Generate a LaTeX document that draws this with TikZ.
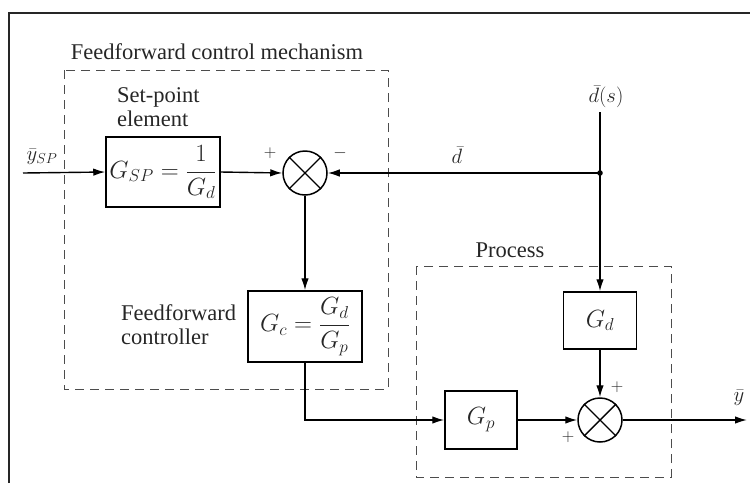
\documentclass[tikz,border=0pt]{standalone}
\usepackage{fontspec}
\setmainfont{Liberation Serif}
\usetikzlibrary{arrows.meta}
\newcommand\fs{\fontsize{22.5}{24}\selectfont}
\newcommand\fb{\fontsize{23}{26}\selectfont}
\newcommand\fsm{\fontsize{17}{18}\selectfont}
\begin{document}
\begin{tikzpicture}[x=1pt,y=-1pt,
  blk/.style={draw, line width=1.5pt, inner sep=0pt, font=\fb, text=black!85},
  sumj/.style={draw, circle, line width=1.5pt, minimum size=44pt, inner sep=0pt},
  wire/.style={line width=1.4pt},
  sig/.style={line width=1.4pt, -{Latex[length=12pt,width=7.5pt]}},
  grp/.style={dash pattern=on 9pt off 6pt, line width=1pt, black!70},
  lbl/.style={font=\fs, inner sep=0pt, text=black!85},
  sgn/.style={font=\fsm, inner sep=0pt, text=black!85}]
\useasboundingbox (0,0) rectangle (750,483);
% frame
\draw[line width=1.8pt, black!85] (9,483) -- (9,13) -- (750,13);
% groups
\draw[grp] (64,70) rectangle (388,389);
\draw[grp] (416,266) rectangle (671,477);
\node[lbl] (ttl) at (217,52) {Feedforward control mechanism};
\node[lbl] (proc) at (510,250) {Process};
\node[lbl, anchor=west, align=left] (spe) at (117,107) {Set-point\\element};
\node[lbl, anchor=west, align=left] (ffc) at (121,325) {Feedforward\\controller};
% blocks
\node[blk, minimum width=114pt, minimum height=70pt] (gsp) at (163,172) {$\displaystyle G_{SP} = \frac{1}{G_d}$};
\node[blk, minimum width=114pt, minimum height=71pt] (gc) at (305,326.5) {$\displaystyle G_c = \frac{G_d}{G_p}$};
\node[blk, minimum width=73pt, minimum height=57pt] (gd) at (600,320.5) {$G_d$};
\node[blk, minimum width=72pt, minimum height=58pt] (gp) at (481,420) {$G_p$};
\node[sumj] (s1) at (305,173) {};
\node[sumj] (s2) at (600,420) {};
\draw[wire] (s1.45) -- (s1.225) (s1.135) -- (s1.315);
\draw[wire] (s2.45) -- (s2.225) (s2.135) -- (s2.315);
% coordinates
\coordinate (in) at (23,173);
\coordinate (jn) at (600,173);
\coordinate (dtop) at (600,112);
\coordinate (out) at (747,420);
% connectors
\draw[sig] (in) -- (gsp.west);
\draw[sig] (gsp.east) -- (s1.west);
\draw[sig] (dtop) -- (gd.north);
\draw[sig] (jn) -- (s1.east);
\fill (jn) circle (2.8pt);
\draw[sig] (s1.south) -- (gc.north);
\draw[sig] (gc.south) |- (gp.west);
\draw[sig] (gp.east) -- (s2.west);
\draw[sig] (gd.south) -- (s2.north);
\draw[sig] (s2.east) -- (out);
% signal labels
\node[lbl] (ysp) at (42,157) {$\bar{y}_{SP}$};
\node[lbl] (dbar) at (457,155) {$\bar{d}$};
\node[lbl] (ds) at (606,97) {$\bar{d}(s)$};
\node[lbl] (ybar) at (739,398) {$\bar{y}$};
\node[sgn] (p1) at (270,153) {$+$};
\node[sgn] (m1) at (340,153) {$-$};
\node[sgn] (p2) at (617,387) {$+$};
\node[sgn] (p3) at (568,437) {$+$};
\end{tikzpicture}
\end{document}
